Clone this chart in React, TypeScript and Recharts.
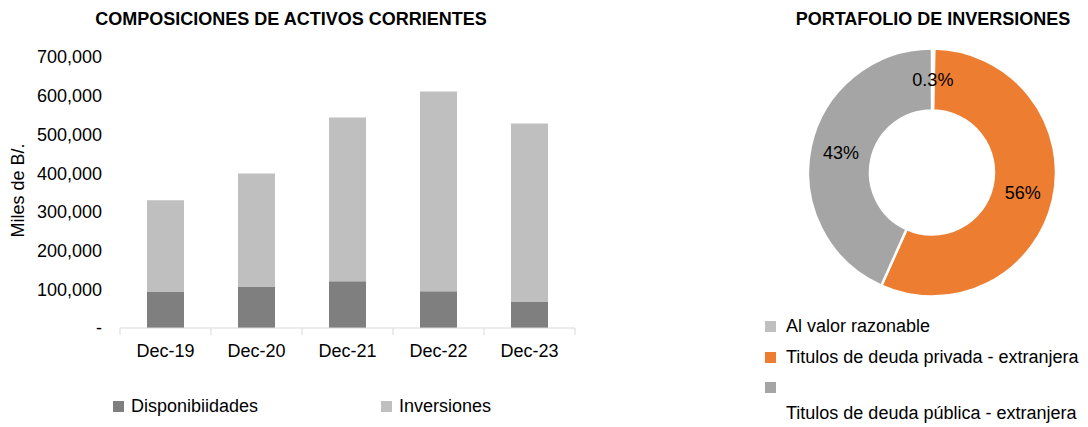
import React from 'react';
import { BarChart, Bar, XAxis, YAxis, Legend, PieChart, Pie, Cell } from 'recharts';

// Composición de activos corrientes (miles de B/.)
const periods = ['Dec-19', 'Dec-20', 'Dec-21', 'Dec-22', 'Dec-23'];
const disponibilidades = [94000, 106000, 121000, 95000, 67000];
const inversiones = [236000, 293000, 423000, 516000, 461000];
const yTicks = [0, 100000, 200000, 300000, 400000, 500000, 600000, 700000];

// Portafolio de inversiones (%)
const portfolioNames = [
  'Al valor razonable',
  'Titulos de deuda privada - extranjera',
  'Titulos de deuda pública - extranjera',
];
const portfolioShares = [0.3, 56.4, 43.3];

const FONT = '"Liberation Sans", Arial, sans-serif';
const FS = 18;
const DARK = '#7f7f7f';
const LIGHT = '#bfbfbf';
const pieColors = ['#bfbfbf', '#ed7d31', '#a5a5a5'];

const barData = periods.map((p, i) => ({
  period: p,
  disponibilidades: disponibilidades[i],
  inversiones: inversiones[i],
}));

const pieData = portfolioNames.map((name, i) => ({ name, value: portfolioShares[i] }));

const fmtY = (v: number) => (v === 0 ? '-' : v.toLocaleString('en-US'));
const fmtPct = (v: number) => (v < 1 ? `${v.toFixed(1)}%` : `${Math.round(v)}%`);

function XTick(props: any) {
  const { x, y, payload, index, width, visibleTicksCount } = props;
  const n = visibleTicksCount || periods.length;
  const half = (width || 455) / n / 2;
  const last = index === n - 1;
  return (
    <g>
      <line x1={x - half} x2={x - half} y1={y} y2={y + 7} stroke="#d9d9d9" />
      {last && <line x1={x + half} x2={x + half} y1={y} y2={y + 7} stroke="#d9d9d9" />}
      <text x={x} y={y + 29} textAnchor="middle" fontSize={FS} fill="#000" fontFamily={FONT}>
        {payload.value}
      </text>
    </g>
  );
}

function YLabel(props: any) {
  const vb = props.viewBox || { y: 57, height: 271 };
  const cy = vb.y + vb.height / 2 - 2;
  return (
    <text x={18} y={cy} transform={`rotate(-90, 18, ${cy})`} textAnchor="middle" dominantBaseline="central"
      fontSize={FS} fill="#000" fontFamily={FONT}>
      Miles de B/.
    </text>
  );
}

function BarLegend(props: any) {
  const xs = [113, 381];
  return (
    <div style={{ position: 'relative', height: 54, fontFamily: FONT, fontSize: FS, color: '#000' }}>
      {(props.payload || []).map((p: any, i: number) => (
        <div key={p.value} style={{ position: 'absolute', left: xs[i], top: 23, display: 'flex', alignItems: 'center', whiteSpace: 'nowrap' }}>
          <span style={{ width: 11, height: 11, background: p.color, display: 'inline-block', marginRight: 7 }} />
          {p.value}
        </div>
      ))}
    </div>
  );
}

function PieLegend() {
  const rows = [
    { top: 6, text: true },
    { top: 37, text: true },
    { top: 67, text: false },
  ];
  return (
    <div style={{ position: 'relative', height: 120, width: 338, fontFamily: FONT, fontSize: FS, color: '#000' }}>
      {pieData.map((d, i) => (
        <div key={d.name}>
          <div style={{ position: 'absolute', left: 15, top: rows[i].top, display: 'flex', alignItems: 'center', whiteSpace: 'nowrap', height: 20 }}>
            <span style={{ width: 11, height: 11, background: pieColors[i], display: 'inline-block', marginRight: 10 }} />
            {rows[i].text ? d.name : ''}
          </div>
          {!rows[i].text && (
            <div style={{ position: 'absolute', left: 36, top: 93, whiteSpace: 'nowrap', height: 20, lineHeight: '20px' }}>{d.name}</div>
          )}
        </div>
      ))}
    </div>
  );
}

const RAD = Math.PI / 180;
function PieLabel(props: any) {
  const { cx, cy, midAngle, innerRadius, outerRadius, value } = props;
  const r = (innerRadius + outerRadius) / 2;
  const x = cx + r * Math.cos(-midAngle * RAD);
  const y = cy + r * Math.sin(-midAngle * RAD);
  return (
    <text x={x} y={y} textAnchor="middle" dominantBaseline="central" fontSize={FS} fill="#000" fontFamily={FONT}>
      {fmtPct(value)}
    </text>
  );
}

const titleStyle: React.CSSProperties = {
  position: 'absolute',
  top: 8,
  lineHeight: '22px',
  fontFamily: FONT,
  fontWeight: 'bold',
  fontSize: FS,
  color: '#000',
  textAlign: 'center',
  whiteSpace: 'nowrap',
};

export default function App() {
  return (
    <div style={{ position: 'absolute', left: 0, top: 0, width: 1088, height: 427, background: '#fff', overflow: 'hidden' }}>
      <div style={{ ...titleStyle, left: 41, width: 500 }}>COMPOSICIONES DE ACTIVOS CORRIENTES</div>
      <div style={{ ...titleStyle, left: 783, width: 300 }}>PORTAFOLIO DE INVERSIONES</div>

      <div style={{ position: 'absolute', left: 0, top: 0 }}>
        <BarChart width={600} height={427} data={barData} margin={{ top: 57, right: 25, bottom: 0, left: 0 }}>
          <YAxis
            width={120}
            domain={[0, 700000]}
            ticks={yTicks}
            tickFormatter={fmtY}
            axisLine={false}
            tickLine={false}
            tickSize={6}
            tickMargin={12}
            tick={{ fontSize: FS, fill: '#000', fontFamily: FONT }}
            label={<YLabel />}
          />
          <XAxis
            dataKey="period"
            height={45}
            axisLine={{ stroke: '#d9d9d9' }}
            tickLine={false}
            tickSize={0}
            tickMargin={0}
            tick={<XTick />}
            interval={0}
          />
          <Legend verticalAlign="bottom" content={<BarLegend />} wrapperStyle={{ left: 0, width: 600, height: 54 }} />
          <Bar dataKey="disponibilidades" name="Disponibiidades" stackId="a" fill={DARK} barSize={37} isAnimationActive={false} />
          <Bar dataKey="inversiones" name="Inversiones" stackId="a" fill={LIGHT} barSize={37} isAnimationActive={false} />
        </BarChart>
      </div>

      <div style={{ position: 'absolute', left: 750, top: 0 }}>
        <PieChart width={338} height={427} margin={{ top: 0, right: 0, bottom: 0, left: 0 }}>
          <Pie
            data={pieData}
            dataKey="value"
            nameKey="name"
            cx={182}
            cy={172.5}
            innerRadius={62}
            outerRadius={124}
            startAngle={90}
            endAngle={-270}
            stroke="#fff"
            strokeWidth={2.5}
            label={PieLabel}
            labelLine={false}
            isAnimationActive={false}
          >
            {pieData.map((d, i) => (
              <Cell key={d.name} fill={pieColors[i]} />
            ))}
          </Pie>
          <Legend content={<PieLegend />} wrapperStyle={{ position: 'absolute', left: 0, top: 310, width: 338, height: 120 }} />
        </PieChart>
      </div>
    </div>
  );
}
